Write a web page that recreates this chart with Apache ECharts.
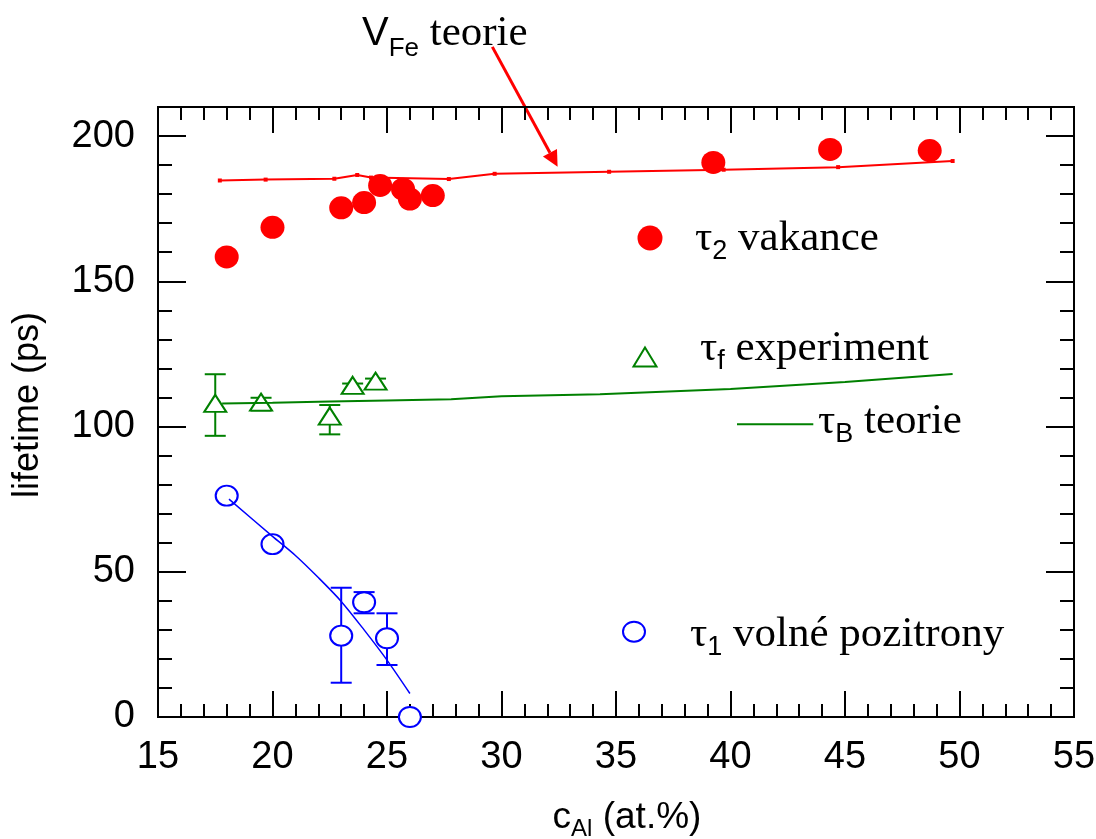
<!DOCTYPE html>
<html>
<head>
<meta charset="utf-8">
<script src="https://cdn.jsdelivr.net/npm/echarts@6/dist/echarts.min.js"></script>
<style>
  html, body { margin: 0; background: #fff; }
  #chart { width: 1096px; height: 839px; }
</style>
</head>
<body>
<div id="chart"></div>
<script>
const SANS = 'Liberation Sans, Arial, sans-serif'
const SERIF = 'Liberation Serif, Times New Roman, serif'
const RED = '#ff0000'
const GREEN = '#008000'
const BLUE = '#0000ff'

// tau2 vakance (red dots)
const vacX = [18.0, 20.0, 23.0, 24.0, 24.7, 25.7, 26.0, 27.0, 39.25, 44.35, 48.7]
const vacY = [158.4, 168.6, 175.3, 177.1, 183.0, 181.7, 178.3, 179.5, 190.9, 195.4, 195.0]

// V_Fe teorie (red line)
const vfeX = [17.7, 19.7, 22.7, 23.7, 24.3, 27.7, 29.7, 34.7, 39.7, 44.7, 49.7]
const vfeY = [184.7, 185.0, 185.3, 186.6, 185.7, 185.2, 187.0, 187.7, 188.4, 189.3, 191.4]

// tau_f experiment (green triangles) with error limits
const expX = [17.5, 19.5, 22.5, 23.5, 24.5]
const expY = [108.0, 108.4, 103.6, 114.2, 115.6]
const expLo = [96.8, 105.5, 97.3, 111.6, 113.0]
const expHi = [118.0, 109.9, 107.4, 114.8, 116.5]

// tau_B teorie (green line)
const bulkX = [17.8, 20.0, 22.5, 25.0, 27.8, 30.0, 34.3, 40.0, 45.0, 49.7]
const bulkY = [107.9, 108.2, 108.6, 109.0, 109.4, 110.4, 111.1, 112.9, 115.3, 118.1]

// tau1 volne pozitrony (blue circles) with error limits
const freeX = [18.0, 20.0, 23.0, 24.0, 25.0, 26.0]
const freeY = [76.2, 59.5, 28.0, 39.5, 27.1, 0]
const freeErrX = [23.0, 24.0, 25.0]
const freeErrLo = [11.8, 35.7, 17.9]
const freeErrHi = [44.5, 43.0, 35.7]

// blue guide line
const fitX = [18.1, 20.0, 21.0, 22.0, 23.0, 24.0, 25.0, 26.0]
const fitY = [75.0, 62.2, 55.6, 48.0, 39.8, 30.0, 19.6, 8.1]

const zip = (xs, ys) => xs.map((x, i) => [x, ys[i]])

function errorBar(color) {
  return function (params, api) {
    const x = api.value(0)
    const lo = api.coord([x, api.value(1)])
    const hi = api.coord([x, api.value(2)])
    const w = 10.5
    const style = { stroke: color, lineWidth: 2 }
    return {
      type: 'group',
      children: [
        { type: 'line', shape: { x1: lo[0], y1: lo[1], x2: hi[0], y2: hi[1] }, style },
        { type: 'line', shape: { x1: hi[0] - w, y1: hi[1], x2: hi[0] + w, y2: hi[1] }, style },
        { type: 'line', shape: { x1: lo[0] - w, y1: lo[1], x2: lo[0] + w, y2: lo[1] }, style },
      ],
    }
  }
}

const axisLine = { show: true, onZero: false, lineStyle: { color: '#000', width: 2 } }
function xAx(pos, step, len, labels) {
  return {
    type: 'value', position: pos, min: 15, max: 55, interval: step,
    axisLine, splitLine: { show: false },
    axisTick: { inside: true, length: len, lineStyle: { color: '#000', width: 2 } },
    axisLabel: { show: labels, fontFamily: SANS, fontSize: 38, color: '#000', margin: 22 },
  }
}
function yAx(pos, step, len, labels) {
  return {
    type: 'value', position: pos, min: 0, max: 210, interval: step,
    axisLine, splitLine: { show: false },
    axisTick: { inside: true, length: len, lineStyle: { color: '#000', width: 2 } },
    axisLabel: { show: labels, showMaxLabel: false, fontFamily: SANS, fontSize: 38, color: '#000', margin: 23 },
  }
}

const chart = echarts.init(document.getElementById('chart'))

chart.setOption({
  backgroundColor: '#fff',
  animation: false,
  grid: { left: 158, right: 22, top: 107, bottom: 122, containLabel: false, outerBoundsMode: 'none' },
  xAxis: [
    {
      ...xAx('bottom', 5, 26, true),
      name: '{c|c}{s|Al}{n| (at.%)}',
      nameLocation: 'middle',
      nameGap: 78,
      nameTextStyle: {
        padding: [0, 0, 0, 22],
        rich: {
          c: { fontFamily: SANS, fontSize: 37, color: '#000', verticalAlign: 'middle' },
          s: { fontFamily: SANS, fontSize: 24, color: '#000', padding: [22, 0, 0, 0], verticalAlign: 'middle' },
          n: { fontFamily: SANS, fontSize: 37, color: '#000', verticalAlign: 'middle' },
        },
      },
    },
    xAx('bottom', 1, 13, false),
    xAx('top', 5, 26, false),
    xAx('top', 1, 13, false),
  ],
  yAxis: [
    {
      ...yAx('left', 50, 28, true),
      name: 'lifetime (ps)',
      nameLocation: 'middle',
      nameGap: 112,
      nameTextStyle: { fontFamily: SANS, fontSize: 36, color: '#000', padding: [0, 0, 0, 14] },
    },
    yAx('left', 10, 14, false),
    yAx('right', 50, 28, false),
    yAx('right', 10, 14, false),
  ],
  series: [
    {
      name: 'exp err', type: 'custom', renderItem: errorBar(GREEN),
      data: expX.map((x, i) => [x, expLo[i], expHi[i]]), encode: { x: 0, y: [1, 2] }, clip: false,
    },
    {
      name: 'free err', type: 'custom', renderItem: errorBar(BLUE),
      data: freeErrX.map((x, i) => [x, freeErrLo[i], freeErrHi[i]]), encode: { x: 0, y: [1, 2] }, clip: false,
    },
    {
      name: 'VFe teorie', type: 'line', data: zip(vfeX, vfeY),
      symbol: 'rect', symbolSize: 4, itemStyle: { color: RED },
      lineStyle: { color: RED, width: 2 },
    },
    {
      name: 'τB teorie', type: 'line', data: zip(bulkX, bulkY), symbol: 'none',
      itemStyle: { color: GREEN }, lineStyle: { color: GREEN, width: 2 },
    },
    {
      name: 'fit', type: 'line', data: zip(fitX, fitY), symbol: 'none', smooth: 0.3,
      itemStyle: { color: BLUE }, lineStyle: { color: BLUE, width: 1.5 },
    },
    {
      name: 'τ2 vakance', type: 'scatter', data: zip(vacX, vacY),
      symbol: 'circle', symbolSize: [24, 23], itemStyle: { color: RED, opacity: 1 }, clip: false,
    },
    {
      name: 'τf experiment', type: 'scatter', data: zip(expX, expY),
      symbol: 'emptyTriangle', symbolSize: [22, 17],
      itemStyle: { color: GREEN, borderWidth: 2, opacity: 1 }, clip: false,
    },
    {
      name: 'τ1 volné pozitrony', type: 'scatter', data: zip(freeX, freeY),
      symbol: 'emptyCircle', symbolSize: [22, 20],
      itemStyle: { color: BLUE, borderWidth: 2, opacity: 1 }, clip: false,
    },
  ],
})

// key texts: tau with sans subscript, serif words
function keyText(x, y, sub, word) {
  return {
    type: 'text', x, y,
    style: {
      text: `{g|τ}{s|${sub}}{t| ${word}}`,
      verticalAlign: 'middle',
      rich: {
        g: { fontFamily: SERIF, fontSize: 43, fill: '#000', verticalAlign: 'middle' },
        s: { fontFamily: SANS, fontSize: 27, fill: '#000', padding: [26, 0, 0, 0], verticalAlign: 'middle' },
        t: { fontFamily: SERIF, fontSize: 43, fill: '#000', verticalAlign: 'middle' },
      },
    },
  }
}

// V_Fe label and the arrow pointing at the theory curve
const arrowFrom = chart.convertToPixel({ xAxisIndex: 0, yAxisIndex: 0 }, [29.6, 230.7])
const arrowTo = chart.convertToPixel({ xAxisIndex: 0, yAxisIndex: 0 }, [32.45, 189.4])
const dx = arrowTo[0] - arrowFrom[0], dy = arrowTo[1] - arrowFrom[1]
const len = Math.hypot(dx, dy), ux = dx / len, uy = dy / len
const headL = 16, headW = 8
const base = [arrowTo[0] - ux * headL, arrowTo[1] - uy * headL]

chart.setOption({
  graphic: [
    // red dot key
    { type: 'circle', shape: { cx: 650, cy: 238, r: 12.5 }, style: { fill: RED } },
    keyText(695, 239, '2', 'vakance'),
    // green triangle key
    {
      type: 'polygon',
      shape: { points: [[645, 347.5], [656.5, 366.5], [633.5, 366.5]] },
      style: { fill: '#fff', stroke: GREEN, lineWidth: 2 },
    },
    keyText(700, 349, 'f', 'experiment'),
    // green line key
    { type: 'line', shape: { x1: 737, y1: 424.3, x2: 813.3, y2: 424.3 }, style: { stroke: GREEN, lineWidth: 2 } },
    keyText(818, 422, 'B', 'teorie'),
    // blue circle key
    { type: 'ellipse', shape: { cx: 634, cy: 631.7, rx: 11, ry: 10 }, style: { fill: '#fff', stroke: BLUE, lineWidth: 2 } },
    keyText(690, 635, '1', 'volné pozitrony'),
    {
      type: 'text', left: 362, top: 12,
      style: {
        text: '{v|V}{s|Fe}{t| teorie}',
        rich: {
          v: { fontFamily: SANS, fontSize: 40, fill: '#000', verticalAlign: 'middle' },
          s: { fontFamily: SANS, fontSize: 26, fill: '#000', padding: [30, 0, 0, 0], verticalAlign: 'middle' },
          t: { fontFamily: SERIF, fontSize: 43, fill: '#000', verticalAlign: 'middle' },
        },
      },
    },
    {
      type: 'line',
      shape: { x1: arrowFrom[0], y1: arrowFrom[1], x2: base[0], y2: base[1] },
      style: { stroke: RED, lineWidth: 3 },
    },
    {
      type: 'polygon',
      shape: {
        points: [
          arrowTo,
          [base[0] - uy * headW, base[1] + ux * headW],
          [base[0] + uy * headW, base[1] - ux * headW],
        ],
      },
      style: { fill: RED },
    },
  ],
})
</script>
</body>
</html>
